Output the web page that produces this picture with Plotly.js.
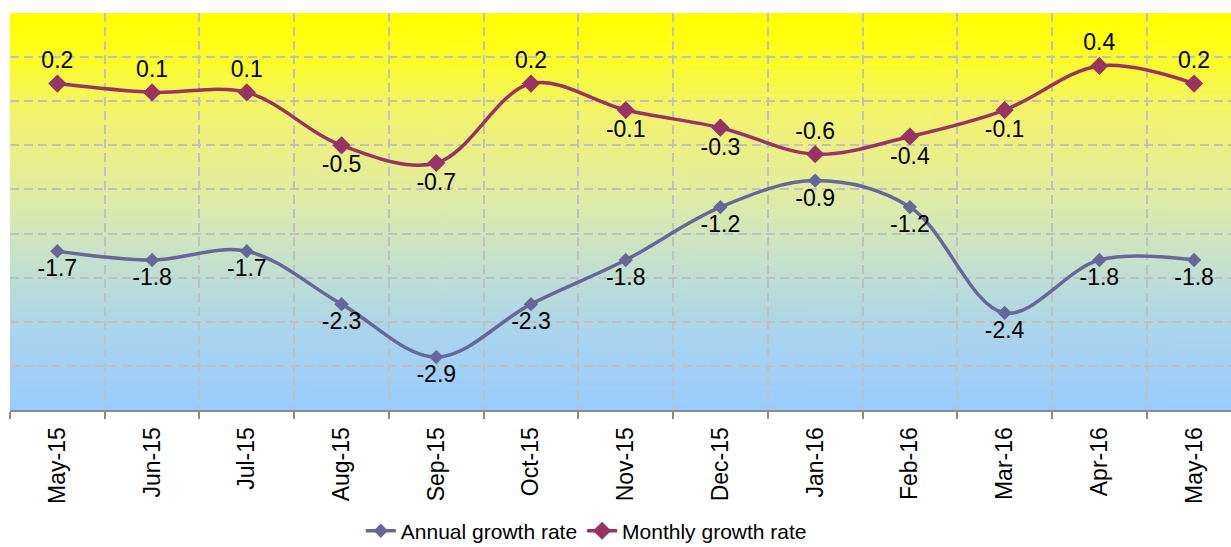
<!DOCTYPE html>
<html>
<head>
<meta charset="utf-8">
<script src="https://cdn.plot.ly/plotly-3.0.1.min.js"></script>
<style>
html,body{margin:0;padding:0;background:#fff;overflow:hidden;}
#chart{width:1231px;height:547px;}
</style>
</head>
<body>
<div id="chart"></div>
<script>
const months = ["May-15","Jun-15","Jul-15","Aug-15","Sep-15","Oct-15","Nov-15","Dec-15","Jan-16","Feb-16","Mar-16","Apr-16","May-16"];
const annualGrowth = [-1.7,-1.8,-1.7,-2.3,-2.9,-2.3,-1.8,-1.2,-0.9,-1.2,-2.4,-1.8,-1.8];
const monthlyGrowth = [0.2,0.1,0.1,-0.5,-0.7,0.2,-0.1,-0.3,-0.6,-0.4,-0.1,0.4,0.2];
const monthlyLabelPos = ["top center","top center","top center","bottom center","bottom center","top center","bottom center","bottom center","top center","bottom center","bottom center","top center","top center"];

// gradient background image
const cv = document.createElement('canvas');
cv.width = 10; cv.height = 400;
const ctx = cv.getContext('2d');
const g = ctx.createLinearGradient(0,0,0,400);
g.addColorStop(0,'#ffff00');
g.addColorStop(0.07,'#ffff10');
g.addColorStop(0.25,'#f3f36c');
g.addColorStop(0.45,'#e2eca0');
g.addColorStop(0.62,'#c6e2cc');
g.addColorStop(0.8,'#abd4ec');
g.addColorStop(1,'#99ccff');
ctx.fillStyle = g;
ctx.fillRect(0,0,10,400);
const bg = cv.toDataURL('image/png');

const font = "Liberation Sans, Arial, sans-serif";

const traces = [
  {
    name: "Annual growth rate",
    x: months, y: annualGrowth,
    text: annualGrowth.map(v => v.toFixed(1)),
    mode: "lines+markers+text",
    textposition: "bottom center",
    textfont: {family: font, size: 23, color: "#000"},
    line: {color: "#666699", width: 3.5, shape: "spline", smoothing: 1},
    marker: {symbol: "diamond", size: 11, color: "#666699"},
    cliponaxis: false
  },
  {
    name: "Monthly growth rate",
    x: months, y: monthlyGrowth,
    text: monthlyGrowth.map(v => v.toFixed(1)),
    mode: "lines+markers+text",
    textposition: monthlyLabelPos,
    textfont: {family: font, size: 23, color: "#000"},
    line: {color: "#993366", width: 3.5, shape: "spline", smoothing: 1},
    marker: {symbol: "diamond", size: 14, color: "#993366"},
    cliponaxis: false
  }
];

const layout = {
  width: 1231, height: 547,
  margin: {l: 10, r: 0, t: 13, b: 137, autoexpand: false},
  paper_bgcolor: "#fff",
  plot_bgcolor: "rgba(0,0,0,0)",
  font: {family: font, size: 22, color: "#000"},
  showlegend: true,
  legend: {orientation: "h", x: 0.472, xanchor: "center", y: -0.305, yanchor: "middle",
           font: {family: font, size: 21, color: "#000"}, bgcolor: "rgba(0,0,0,0)"},
  xaxis: {
    type: "category",
    automargin: false,
    range: [-0.5, 12.39],
    tickson: "boundaries",
    showgrid: true, gridcolor: "#c0c0c0", gridwidth: 2, griddash: "9px,5px",
    ticks: "outside", ticklen: 7, tickcolor: "#8c8c8c", tickwidth: 2,
    showline: true, linecolor: "#8c8c8c", linewidth: 2,
    tickangle: -90,
    ticklabelstandoff: 6,
    tickfont: {family: font, size: 23, color: "#000"},
    fixedrange: true
  },
  yaxis: {
    automargin: false,
    range: [-3.5, 1.0],
    dtick: 0.5, tick0: 0,
    showticklabels: false,
    showgrid: true, gridcolor: "#c0c0c0", gridwidth: 2, griddash: "9px,5px",
    zeroline: false, ticks: "",
    showline: false,
    fixedrange: true
  },
  images: [{
    source: bg, xref: "paper", yref: "paper", x: 0, y: 1, sizex: 1, sizey: 1,
    sizing: "stretch", layer: "below", xanchor: "left", yanchor: "top"
  }]
};

Plotly.newPlot("chart", traces, layout, {displayModeBar: false, staticPlot: true});
</script>
</body>
</html>
